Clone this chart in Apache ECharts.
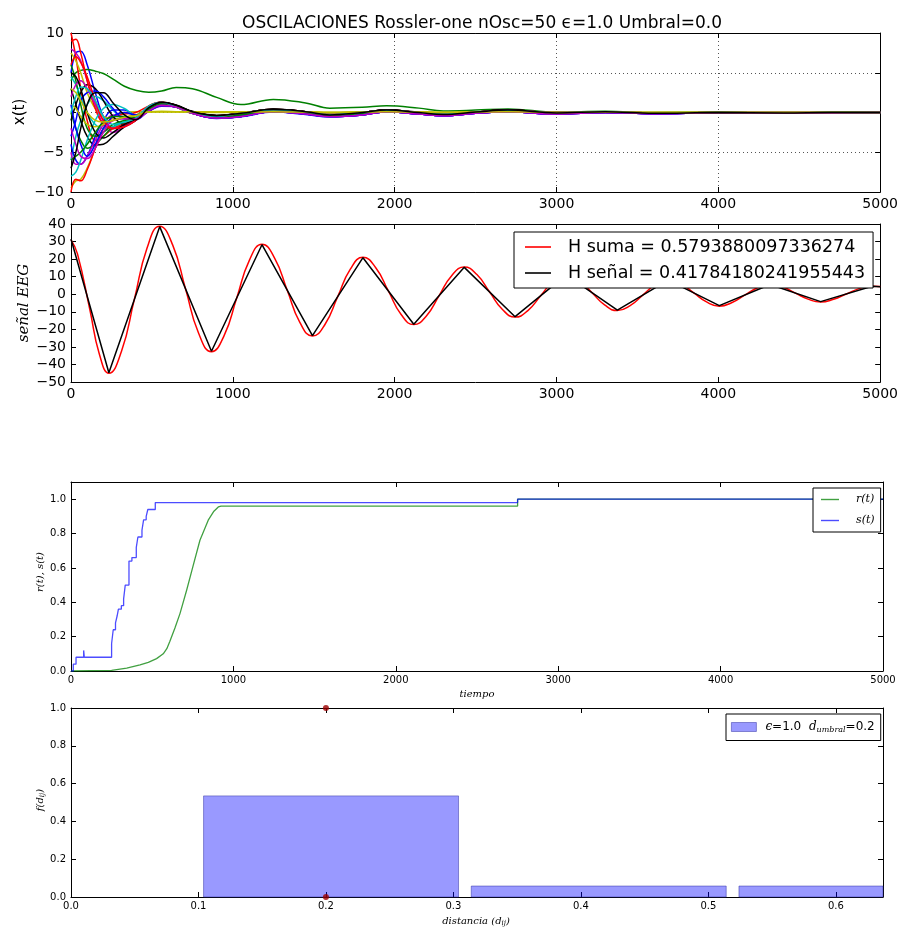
<!DOCTYPE html>
<html>
<head>
<meta charset="utf-8">
<script src="https://cdn.jsdelivr.net/npm/echarts@6/dist/echarts.min.js"></script>
<style>html,body{margin:0;padding:0;background:#fff}#c{width:901px;height:928px}</style>
</head>
<body>
<div id="c"></div>
<script>
// ---------- DATA ----------
const titleText = 'OSCILACIONES Rossler-one nOsc=50 \u03F5=1.0 Umbral=0.0';

// Panel 1: individual oscillators x(t)
const oscTime = [0, 30, 60, 100, 150, 200, 260, 330, 400, 480, 560, 650, 750, 900, 1050, 1250, 1450, 1600, 1800, 1950, 2150, 2300, 2500, 2700, 3000, 3300, 3600, 4000, 4400, 4700, 5000];
const oscValues = [
  [5, 7.5, 7.7, 6, 2.5, -0.5, -2, -1.6, -0.8, 0.2, 0.9, 0.7, -0.1, -0.7, -0.5, 0.1, -0.2, -0.5, -0.3, 0.1, -0.2, -0.4, -0.1, 0.1, -0.2, 0.0, -0.15, -0.05, -0.1, -0.05, 0.0],
  [4, 5.0, 5.3, 5.4, 5.2, 4.9, 4.2, 3.3, 2.8, 2.55, 2.7, 3.15, 3.0, 1.9, 1.0, 1.65, 1.2, 0.55, 0.65, 0.85, 0.55, 0.2, 0.3, 0.45, 0.05, 0.15, 0.0, 0.05, -0.05, 0.0, 0.0],
  [10, 7, 3, -1, -3.5, -3, -2, -1.4, -0.9, 0.6, 1.3, 0.9, 0.1, -0.4, -0.1, 0.4, 0.1, -0.3, 0.0, 0.3, 0.0, -0.25, 0.05, 0.3, -0.05, 0.1, -0.1, 0.0, -0.05, 0.0, 0.0],
  [-6, -3, -1, 1, 2, 1.5, 0.3, -0.8, -0.7, 0.4, 1.1, 0.8, 0.0, -0.5, -0.3, 0.3, 0.0, -0.35, -0.1, 0.2, -0.05, -0.3, 0.0, 0.2, -0.1, 0.05, -0.1, 0.0, -0.05, 0.0, 0.0],
  [8, 7.5, 6.5, 4, 1, -1.5, -2.5, -1.8, -0.9, 0.1, 0.8, 0.75, -0.1, -0.65, -0.45, 0.15, -0.15, -0.45, -0.25, 0.1, -0.15, -0.35, -0.05, 0.1, -0.15, 0.0, -0.1, -0.05, -0.1, -0.05, 0.0],
  [-9.5, -8.6, -8.4, -7, -4.5, -2, -0.5, 0, 0.1, 0.1, 0.1, 0.1, 0.1, 0.05, 0.05, 0.1, 0.05, 0.0, 0.05, 0.1, 0.05, 0.0, 0.05, 0.1, 0.0, 0.05, 0.0, 0.0, 0.0, 0.0, 0.0],
  [3, 1, -1, -3, -4.1, -4, -3, -1.8, -1.0, 0.5, 1.25, 0.95, 0.15, -0.35, -0.1, 0.4, 0.1, -0.25, 0.0, 0.3, 0.05, -0.2, 0.05, 0.3, -0.05, 0.1, -0.1, 0.0, -0.05, 0.0, 0.0],
  [-4, -6, -6.5, -5.5, -3, -1, 0.3, 0.3, -0.3, 0.2, 0.85, 0.7, -0.1, -0.7, -0.5, 0.1, -0.2, -0.5, -0.3, 0.1, -0.2, -0.4, -0.1, 0.1, -0.2, 0.0, -0.15, -0.05, -0.1, -0.05, 0.0],
  [0, -2, -3.5, -4.5, -4, -3, -1.8, -1.2, -0.8, 0.4, 1.1, 0.8, 0.0, -0.5, -0.3, 0.3, 0.0, -0.35, -0.1, 0.2, -0.05, -0.3, 0.0, 0.2, -0.1, 0.05, -0.1, 0.0, -0.05, 0.0, 0.0],
  [-10, -8.4, -8.6, -7.2, -4.5, -2, -0.6, -0.2, 0, 0.8, 1.3, 0.7, -0.1, -0.5, -0.1, 0.35, 0.05, -0.25, 0.05, 0.25, 0.0, -0.2, 0.05, 0.25, 0.0, 0.1, -0.05, 0.0, 0.0, 0.0, 0.0],
  [4.5, 3.5, 2, 0, -1.5, -2, -1.8, -1.2, -0.7, 0.7, 1.25, 0.75, -0.05, -0.5, -0.15, 0.35, 0.05, -0.25, 0.05, 0.25, 0.0, -0.2, 0.05, 0.25, 0.0, 0.1, -0.05, 0.0, 0.0, 0.0, 0.0],
  [-5, -6.5, -6.5, -5.5, -3.5, -1.5, -0.3, -0.6, -0.8, 0.2, 0.9, 0.7, -0.1, -0.7, -0.5, 0.1, -0.2, -0.5, -0.3, 0.1, -0.2, -0.4, -0.1, 0.1, -0.2, 0.0, -0.15, -0.05, -0.1, -0.05, 0.0],
  [7.5, 6.5, 5, 2.5, 0.5, -0.5, -0.8, -0.6, -0.3, 0.1, 0.1, 0.1, 0.1, 0.05, 0.05, 0.1, 0.05, 0.0, 0.05, 0.1, 0.05, 0.0, 0.05, 0.1, 0.0, 0.05, 0.0, 0.0, 0.0, 0.0, 0.0],
  [-1, 1, 2.5, 3.5, 3, 1.5, -0.5, -1.5, -1, 0.6, 1.3, 0.9, 0.1, -0.4, -0.1, 0.4, 0.1, -0.3, 0.0, 0.3, 0.0, -0.25, 0.05, 0.3, -0.05, 0.1, -0.1, 0.0, -0.05, 0.0, 0.0],
  [-3, -1, 1.5, 2.5, 2.7, 2.0, 0.5, -0.8, -0.9, 0.2, 0.9, 0.7, -0.1, -0.75, -0.55, 0.05, -0.25, -0.55, -0.3, 0.1, -0.2, -0.4, -0.1, 0.1, -0.2, 0.0, -0.15, -0.05, -0.1, -0.05, 0.0],
  [6, 4, 1, -2, -3, -2.5, -1.5, -1, -0.8, 0.4, 1.1, 0.8, 0.0, -0.5, -0.3, 0.3, 0.0, -0.35, -0.1, 0.2, -0.05, -0.3, 0.0, 0.2, -0.1, 0.05, -0.1, 0.0, -0.05, 0.0, 0.0],
  [9, 9.2, 7.5, 4, 0.5, -1.5, -2, -1.5, -0.8, 0.8, 1.3, 0.7, -0.1, -0.5, -0.1, 0.35, 0.05, -0.25, 0.05, 0.25, 0.0, -0.2, 0.05, 0.25, 0.0, 0.1, -0.05, 0.0, 0.0, 0.0, 0.0],
  [-8, -7.5, -6, -3.5, -1, 0.5, 1, 0.5, -0.3, 0.3, 1.0, 0.8, 0.05, -0.45, -0.25, 0.3, 0.0, -0.3, -0.1, 0.2, -0.05, -0.3, 0.0, 0.2, -0.1, 0.05, -0.1, 0.0, -0.05, 0.0, 0.0],
  [2, 3.5, 4, 3, 1, -1, -2, -1.8, -1, 0.2, 0.9, 0.7, -0.1, -0.7, -0.5, 0.1, -0.2, -0.5, -0.3, 0.1, -0.2, -0.4, -0.1, 0.1, -0.2, 0.0, -0.15, -0.05, -0.1, -0.05, 0.0],
  [1, 0.5, -0.5, -1.5, -1.8, -1.5, -1, -0.6, -0.3, 0.1, 0.15, 0.1, 0.05, 0.0, 0.05, 0.1, 0.05, 0.0, 0.05, 0.1, 0.05, 0.0, 0.05, 0.1, 0.0, 0.05, 0.0, 0.0, 0.0, 0.0, 0.0],
  [5, 4.5, 3, 0, -2.5, -3.2, -2.5, -1.5, -0.8, 0.6, 1.2, 0.85, 0.1, -0.45, -0.15, 0.4, 0.1, -0.3, 0.0, 0.3, 0.0, -0.25, 0.05, 0.3, -0.05, 0.1, -0.1, 0.0, -0.05, 0.0, 0.0],
  [1, -2, -4, -5.5, -4, -2, -0.5, 0, -0.3, 0.2, 0.9, 0.7, -0.1, -0.7, -0.5, 0.1, -0.2, -0.5, -0.3, 0.1, -0.2, -0.4, -0.1, 0.1, -0.2, 0.0, -0.15, -0.05, -0.1, -0.05, 0.0],
  [-6, -5.5, -5, -4, -2.5, -1.2, -0.5, -0.5, -0.6, 0.4, 1.1, 0.8, 0.0, -0.5, -0.3, 0.3, 0.0, -0.35, -0.1, 0.2, -0.05, -0.3, 0.0, 0.2, -0.1, 0.05, -0.1, 0.0, -0.05, 0.0, 0.0],
  [6, 7, 6.3, 4.5, 1.5, -1, -2, -1.8, -1, 0.8, 1.3, 0.7, -0.1, -0.5, -0.1, 0.35, 0.05, -0.25, 0.05, 0.25, 0.0, -0.2, 0.05, 0.25, 0.0, 0.1, -0.05, 0.0, 0.0, 0.0, 0.0],
  [0, 2, 3.2, 3, 1.5, -0.5, -1.5, -1.2, -0.7, 0.8, 1.3, 0.7, -0.1, -0.5, -0.1, 0.35, 0.05, -0.25, 0.05, 0.25, 0.0, -0.2, 0.05, 0.25, 0.0, 0.1, -0.05, 0.0, 0.0, 0.0, 0.0],
  [-2, -4, -5.5, -5.8, -4.5, -2.5, -1, -0.8, -0.8, 0.2, 0.9, 0.7, -0.1, -0.7, -0.5, 0.1, -0.2, -0.5, -0.3, 0.1, -0.2, -0.4, -0.1, 0.1, -0.2, 0.0, -0.15, -0.05, -0.1, -0.05, 0.0],
  [3, 2.5, 1.5, 0, -1, -1.2, -1, -0.6, -0.4, 0.1, 0.1, 0.1, 0.1, 0.05, 0.05, 0.1, 0.05, 0.0, 0.05, 0.1, 0.05, 0.0, 0.05, 0.1, 0.0, 0.05, 0.0, 0.0, 0.0, 0.0, 0.0],
  [-7, -5, -2, 1, 2.5, 2.5, 1.2, -0.3, -0.9, 0.6, 1.3, 0.9, 0.1, -0.4, -0.1, 0.4, 0.1, -0.3, 0.0, 0.3, 0.0, -0.25, 0.05, 0.3, -0.05, 0.1, -0.1, 0.0, -0.05, 0.0, 0.0]
];

// Panel 2: EEG signals
const senalName = 'H se\u00F1al = 0.41784180241955443';
const sumaName = 'H suma = 0.5793880097336274';
const senalTime = [0, 234, 548, 868, 1180, 1492, 1804, 2118, 2430, 2744, 3060, 3376, 3690, 4006, 4320, 4632, 4950, 5000];
const senalValues = [31.5, -44.7, 38.5, -32.5, 28.2, -23.6, 20.8, -17.1, 15.3, -12.8, 11, -9, 8, -6.5, 5.5, -4.2, 4.5, 4.3];
const sumaTime = [0, 40, 117, 175, 234, 312, 391, 470, 548, 628, 708, 788, 868, 946, 1024, 1102, 1180, 1258, 1336, 1414, 1492, 1570, 1648, 1726, 1804, 1882, 1961, 2040, 2118, 2196, 2274, 2352, 2430, 2508, 2587, 2666, 2744, 2823, 2902, 2981, 3060, 3139, 3218, 3297, 3376, 3455, 3533, 3612, 3690, 3769, 3848, 3927, 4006, 4085, 4163, 4242, 4320, 4398, 4476, 4554, 4632, 4712, 4791, 4870, 4950, 5000];
const sumaValues = [31, 23, -9, -34, -45, -32.5, -3.1, 26.3, 38.7, 28.1, 3, -22.1, -32.7, -23.6, -2.15, 19.3, 28.4, 20.6, 2.3, -16.0, -23.8, -17.1, -1.4, 14.3, 21, 15.25, 1.85, -11.55, -17.3, -12.35, -0.9, 10.55, 15.5, 11.2, 1.25, -8.7, -13, -9.3, -0.9, 7.5, 11.2, 8.1, 1, -6.1, -9.3, -6.5, -0.5, 5.5, 8.2, 5.9, 0.75, -4.4, -6.8, -4.7, -0.5, 3.7, 5.7, 4.1, 0.65, -2.8, -4.5, -2.9, 0.15, 3.2, 4.6, 4.4];

// Panel 3: r(t), s(t)
const rTime = [0, 250, 343, 425, 476, 527, 568, 590, 609, 640, 671, 712, 753, 794, 845, 880, 907, 924, 2750, 2750, 5000];
const rValues = [0, 0.004, 0.017, 0.035, 0.05, 0.072, 0.1, 0.13, 0.173, 0.25, 0.334, 0.47, 0.616, 0.761, 0.878, 0.93, 0.955, 0.96, 0.96, 1.0, 1.0];
const sTime = [0, 14, 31, 78, 82, 250, 260, 274, 284, 292, 310, 324, 334, 357, 375, 402, 412, 437, 447, 463, 473, 519, 2750, 5000];
const sValues = [0, 0.04, 0.08, 0.12, 0.08, 0.16, 0.24, 0.28, 0.32, 0.36, 0.38, 0.42, 0.5, 0.64, 0.66, 0.72, 0.78, 0.82, 0.88, 0.9, 0.94, 0.98, 1.0, 1.0];

// Panel 4: histogram of distances
const binStart = [0.104, 0.314, 0.524];
const binEnd = [0.304, 0.514, 0.724];
const binHeight = [0.535, 0.058, 0.058];
const umbralPointsX = [0.2, 0.2];
const umbralPointsY = [1.0, 0.0];

// ---------- STYLE ----------
const oscColors = ['#0000ff', '#008000', '#ff0000', '#00bfbf', '#bf00bf', '#bfbf00', '#000000'];
const FONT = 'DejaVu Sans';
const SERIF = 'DejaVu Serif';
const minus = v => String(v).replace('-', '\u2212');

const grids = [
  {left: 71, top: 33, width: 812, height: 159},
  {left: 71, top: 224, width: 812, height: 158},
  {left: 71, top: 482, width: 812, height: 189},
  {left: 71, top: 708, width: 812, height: 189}
];

function axisPair(gi, kind, min, max, interval, fontSize, fmt, split, hideMax, labelMargin) {
  const base = {
    type: 'value', gridIndex: gi, min: min, max: max, interval: interval,
    axisLine: {show: true, onZero: false, lineStyle: {color: '#000', width: 1}},
    axisTick: {show: true, inside: true, length: 5, lineStyle: {color: '#000'}},
    splitLine: {show: false}
  };
  const main = Object.assign({}, base, {
    position: kind === 'x' ? 'bottom' : 'left',
    axisLabel: {show: true, color: '#000', fontFamily: FONT, fontSize: fontSize, margin: labelMargin,
      formatter: fmt, showMaxLabel: !hideMax, showMinLabel: true},
    splitLine: split ? {show: true, lineStyle: {color: '#555', type: [1, 3], width: 1}} : {show: false}
  });
  const other = Object.assign({}, base, {
    position: kind === 'x' ? 'top' : 'right',
    axisLabel: {show: false}
  });
  return [main, other];
}

const xAxes = [].concat(
  axisPair(0, 'x', 0, 5000, 1000, 14, v => minus(v), true, false, 5),
  axisPair(1, 'x', 0, 5000, 1000, 14, v => minus(v), false, false, 5),
  axisPair(2, 'x', 0, 5000, 1000, 10, v => minus(v), false, false, 4),
  axisPair(3, 'x', 0, 0.637, 0.1, 10, v => v.toFixed(1), false, true, 4)
);
const yAxes = [].concat(
  axisPair(0, 'y', -10, 10, 5, 14, v => minus(v), true, false, 7),
  axisPair(1, 'y', -50, 40, 10, 14, v => minus(v), false, false, 5),
  axisPair(2, 'y', 0, 1.1, 0.2, 10, v => v.toFixed(1), false, true, 5),
  axisPair(3, 'y', 0, 1.0, 0.2, 10, v => v.toFixed(1), false, false, 5)
);

const series = [];
oscValues.forEach((vals, i) => {
  series.push({
    type: 'line', name: 'osc' + i, xAxisIndex: 0, yAxisIndex: 0,
    data: oscTime.map((t, k) => [t, vals[k]]),
    smooth: 0.4, symbol: 'none', silent: true,
    lineStyle: {color: oscColors[i % oscColors.length], width: 1.5},
    z: 2
  });
});
series.push({
  type: 'line', name: sumaName, xAxisIndex: 2, yAxisIndex: 2,
  data: sumaTime.map((t, k) => [t, sumaValues[k]]),
  smooth: 0.5, symbol: 'none', lineStyle: {color: '#ff0000', width: 1.5}, itemStyle: {color: '#ff0000'}
});
series.push({
  type: 'line', name: senalName, xAxisIndex: 2, yAxisIndex: 2,
  data: senalTime.map((t, k) => [t, senalValues[k]]),
  symbol: 'none', lineStyle: {color: '#000000', width: 1.5}, itemStyle: {color: '#000000'}
});
const rColor = 'rgba(0,128,0,0.75)';
const sColor = 'rgba(0,0,255,0.7)';
series.push({
  type: 'line', name: 'r(t)', xAxisIndex: 4, yAxisIndex: 4,
  data: rTime.map((t, k) => [t, rValues[k]]),
  symbol: 'none', lineStyle: {color: rColor, width: 1.3}, itemStyle: {color: rColor}
});
series.push({
  type: 'line', name: 's(t)', xAxisIndex: 4, yAxisIndex: 4, step: 'end',
  data: sTime.map((t, k) => [t, sValues[k]]),
  symbol: 'none', lineStyle: {color: sColor, width: 1.3}, itemStyle: {color: sColor}
});
const barFill = 'rgba(0,0,255,0.4)';
series.push({
  type: 'custom', name: 'hist', xAxisIndex: 6, yAxisIndex: 6,
  data: binStart.map((s, k) => [s, binEnd[k], binHeight[k]]),
  encode: {x: [0, 1], y: 2},
  itemStyle: {color: barFill},
  renderItem: function (params, api) {
    const p0 = api.coord([api.value(0), api.value(2)]);
    const p1 = api.coord([api.value(1), 0]);
    const rect = echarts.graphic.clipRectByRect(
      {x: p0[0], y: p0[1], width: p1[0] - p0[0], height: p1[1] - p0[1]},
      {x: params.coordSys.x, y: params.coordSys.y, width: params.coordSys.width, height: params.coordSys.height}
    );
    if (!rect) return;
    return {type: 'rect', shape: rect, style: {fill: barFill, stroke: 'rgba(40,40,160,0.6)', lineWidth: 0.8}};
  }
});
series.push({
  type: 'scatter', name: 'umbral', xAxisIndex: 6, yAxisIndex: 6,
  data: umbralPointsX.map((x, k) => [x, umbralPointsY[k]]),
  symbolSize: 6, clip: false, itemStyle: {color: '#9b0000'}, z: 5
});

const legends = [
  {
    data: [
      {name: sumaName, icon: 'rect', itemStyle: {color: '#ff0000', borderWidth: 0}},
      {name: senalName, icon: 'rect', itemStyle: {color: '#000000', borderWidth: 0}}
    ],
    orient: 'vertical', left: 514, top: 232,
    backgroundColor: '#fff', borderColor: '#000', borderWidth: 1, borderRadius: 0,
    padding: [5, 8, 5, 11], itemWidth: 26, itemHeight: 1.6, itemGap: 6,
    textStyle: {fontFamily: FONT, fontSize: 17.5, color: '#000', padding: [0, 0, 0, 12], lineHeight: 20},
    selectedMode: false
  },
  {
    data: [
      {name: 'r(t)', icon: 'rect', itemStyle: {color: rColor, borderWidth: 0}},
      {name: 's(t)', icon: 'rect', itemStyle: {color: sColor, borderWidth: 0}}
    ],
    orient: 'vertical', left: 813, top: 488,
    backgroundColor: '#fff', borderColor: '#000', borderWidth: 1, borderRadius: 0,
    padding: [4, 6, 4, 8], itemWidth: 18, itemHeight: 1.4, itemGap: 6,
    textStyle: {fontFamily: SERIF, fontStyle: 'italic', fontSize: 11, color: '#000', padding: [0, 0, 0, 12], lineHeight: 15},
    selectedMode: false
  },
  {
    data: [{name: 'hist', icon: 'rect', itemStyle: {color: barFill, borderColor: 'rgba(40,40,160,0.6)', borderWidth: 0.8}}],
    left: 726, top: 714,
    backgroundColor: '#fff', borderColor: '#000', borderWidth: 1, borderRadius: 0,
    padding: [7, 6, 7, 5], itemWidth: 25, itemHeight: 9,
    formatter: () => '{e|\u03F5}{n|=1.0  }{e|d}{s|umbral}{n|=0.2}',
    textStyle: {
      color: '#000', padding: [0, 0, 0, 4],
      rich: {
        e: {fontFamily: SERIF, fontStyle: 'italic', fontSize: 12, color: '#000'},
        n: {fontFamily: FONT, fontSize: 12, color: '#000'},
        s: {fontFamily: SERIF, fontStyle: 'italic', fontSize: 8, color: '#000', verticalAlign: 'bottom', padding: [5, 0, 0, 0]}
      }
    },
    selectedMode: false
  }
];

const graphics = [
  {type: 'text', x: 20, y: 112, rotation: Math.PI / 2,
    style: {text: 'x(t)', font: '15px "DejaVu Sans"', fill: '#000', align: 'center', verticalAlign: 'middle'}},
  {type: 'text', x: 24, y: 303, rotation: Math.PI / 2,
    style: {text: 'se\u00F1al EEG', font: 'italic 15px "DejaVu Serif"', fill: '#000', align: 'center', verticalAlign: 'middle'}},
  {type: 'text', x: 40, y: 572, rotation: Math.PI / 2,
    style: {text: 'r(t), s(t)', font: 'italic 10px "DejaVu Serif"', fill: '#000', align: 'center', verticalAlign: 'middle'}},
  {type: 'text', x: 477, y: 694,
    style: {text: 'tiempo', font: 'italic 10px "DejaVu Serif"', fill: '#000', align: 'center', verticalAlign: 'middle'}},
  {type: 'text', x: 40, y: 800, rotation: Math.PI / 2,
    style: {text: '{m|f(d}{s|ij}{m|)}', fill: '#000', align: 'center', verticalAlign: 'middle',
      rich: {m: {font: 'italic 10px "DejaVu Serif"', fill: '#000'}, s: {font: 'italic 7px "DejaVu Serif"', fill: '#000', padding: [4, 0, 0, 0]}}}},
  {type: 'text', x: 476, y: 921,
    style: {text: '{m|distancia (d}{s|ij}{m|)}', fill: '#000', align: 'center', verticalAlign: 'middle',
      rich: {m: {font: 'italic 10px "DejaVu Serif"', fill: '#000'}, s: {font: 'italic 7px "DejaVu Serif"', fill: '#000', padding: [4, 0, 0, 0]}}}}
];

const chart = echarts.init(document.getElementById('c'), null, {renderer: 'canvas'});
chart.setOption({
  animation: false,
  backgroundColor: '#fff',
  title: {text: titleText, left: 477, textAlign: 'center', top: 10,
    textStyle: {fontFamily: FONT, fontSize: 17, fontWeight: 'normal', color: '#000'}},
  grid: grids.map(g => Object.assign({show: false, containLabel: false}, g)),
  xAxis: xAxes,
  yAxis: yAxes,
  legend: legends,
  series: series,
  graphic: graphics
});
</script>
</body>
</html>
